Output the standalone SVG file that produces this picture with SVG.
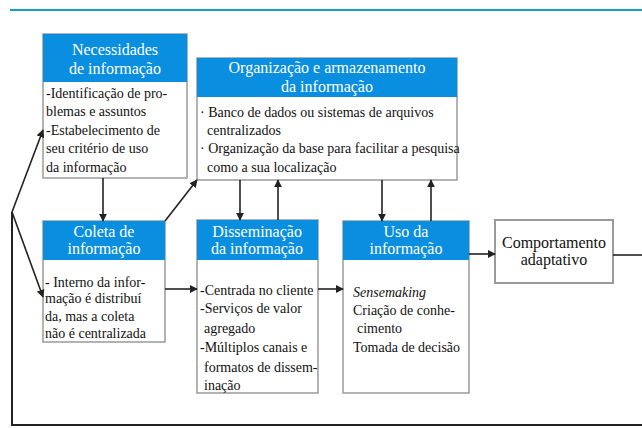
<svg xmlns="http://www.w3.org/2000/svg" width="642" height="428" viewBox="0 0 642 428">
  <defs>
    <marker id="arrow" viewBox="0 0 10 10" refX="9" refY="5" markerWidth="8" markerHeight="8" markerUnits="userSpaceOnUse" orient="auto">
      <path d="M0,0 L10,5 L0,10 z" fill="#222"/>
    </marker>
    <style>
      .head { fill: #0a8ee0; }
      .body { fill: #fff; stroke: #9a9a9a; stroke-width: 1.5; }
      text { font-family: 'Liberation Serif', 'DejaVu Serif', 'Times New Roman', serif; }
      .ht { font-size: 16px; fill: #fff; text-anchor: middle; }
      .bt { font-size: 14px; fill: #111; }
      .ct { font-size: 16px; fill: #111; text-anchor: middle; }
      .conn { fill: none; stroke: #222; stroke-width: 1.6; }
      .frame { fill: none; stroke: #222; stroke-width: 2; }
    </style>
  </defs>

  <rect width="642" height="428" fill="#fff"/>

  <!-- top rule -->
  <line x1="10" y1="10" x2="642" y2="10" stroke="#12a0c6" stroke-width="2.2"/>

  <!-- needs -->
  <g id="necessidades">
    <rect class="body" x="43" y="34" width="144" height="144"/>
    <rect class="head" x="43" y="34" width="144" height="48"/>
    <text class="ht" x="115" y="55">Necessidades</text>
    <text class="ht" x="115" y="74">de informação</text>
    <text class="bt" x="46" y="98">-Identificação de pro-</text>
    <text class="bt" x="46" y="116">blemas e assuntos</text>
    <text class="bt" x="46" y="135">-Estabelecimento de</text>
    <text class="bt" x="46" y="153">seu critério de uso</text>
    <text class="bt" x="46" y="172">da informação</text>
  </g>

  <!-- organisation and storage -->
  <g id="organizacao">
    <rect class="body" x="197" y="58" width="260" height="122"/>
    <rect class="head" x="197" y="58" width="260" height="39"/>
    <text class="ht" x="327" y="73">Organização e armazenamento</text>
    <text class="ht" x="327" y="92">da informação</text>
    <text class="bt" x="200" y="117">· Banco de dados ou sistemas de arquivos</text>
    <text class="bt" x="207" y="135">centralizados</text>
    <text class="bt" x="200" y="153">· Organização da base para facilitar a pesquisa</text>
    <text class="bt" x="207" y="172">como a sua localização</text>
  </g>

  <!-- collection -->
  <g id="coleta">
    <rect class="body" x="43" y="221" width="122" height="121"/>
    <rect class="head" x="43" y="221" width="122" height="39"/>
    <text class="ht" x="104" y="237">Coleta de</text>
    <text class="ht" x="104" y="254">informação</text>
    <text class="bt" x="45" y="287">- Interno da infor-</text>
    <text class="bt" x="45" y="303">mação é distribuí</text>
    <text class="bt" x="45" y="321">da, mas a coleta</text>
    <text class="bt" x="45" y="338">não é centralizada</text>
  </g>

  <!-- dissemination -->
  <g id="disseminacao">
    <rect class="body" x="197" y="220" width="121" height="173"/>
    <rect class="head" x="197" y="220" width="121" height="40"/>
    <text class="ht" x="257" y="237">Disseminação</text>
    <text class="ht" x="257" y="254">da informação</text>
    <text class="bt" x="200" y="295">-Centrada no cliente</text>
    <text class="bt" x="200" y="313">-Serviços de valor</text>
    <text class="bt" x="204" y="333">agregado</text>
    <text class="bt" x="200" y="352">-Múltiplos canais e</text>
    <text class="bt" x="204" y="372">formatos de dissem-</text>
    <text class="bt" x="204" y="390">inação</text>
  </g>

  <!-- use -->
  <g id="uso">
    <rect class="body" x="343" y="221" width="126" height="172"/>
    <rect class="head" x="343" y="221" width="126" height="39"/>
    <text class="ht" x="406" y="237">Uso da</text>
    <text class="ht" x="406" y="254">informação</text>
    <text class="bt" x="353" y="297" font-style="italic">Sensemaking</text>
    <text class="bt" x="353" y="315">Criação de conhe-</text>
    <text class="bt" x="357" y="333">cimento</text>
    <text class="bt" x="353" y="352">Tomada de decisão</text>
  </g>

  <!-- adaptive behaviour -->
  <g id="comportamento">
    <rect x="495" y="220" width="118" height="63" fill="#fff" stroke="#9a9a9a" stroke-width="2"/>
    <text class="ct" x="554" y="248">Comportamento</text>
    <text class="ct" x="554" y="265">adaptativo</text>
  </g>

  <!-- connectors -->
  <g id="conectores">
    <!-- outer feedback loop -->
    <polyline class="frame" points="642,425 12,425 12,212"/>
    <line class="conn" x1="12" y1="212" x2="43" y2="130" marker-end="url(#arrow)"/>
    <line class="conn" x1="12" y1="212" x2="43" y2="297" marker-end="url(#arrow)"/>
    <!-- needs to collection -->
    <line class="conn" x1="103" y1="178" x2="103" y2="221" marker-end="url(#arrow)"/>
    <!-- collection to organisation -->
    <line class="conn" x1="165" y1="221" x2="197" y2="180" marker-end="url(#arrow)"/>
    <!-- collection to dissemination -->
    <line class="conn" x1="165" y1="289" x2="197" y2="289" marker-end="url(#arrow)"/>
    <!-- organisation and dissemination -->
    <line class="conn" x1="240" y1="180" x2="240" y2="220" marker-end="url(#arrow)"/>
    <line class="conn" x1="278" y1="220" x2="278" y2="180" marker-end="url(#arrow)"/>
    <!-- organisation and use -->
    <line class="conn" x1="382" y1="180" x2="382" y2="221" marker-end="url(#arrow)"/>
    <line class="conn" x1="431" y1="221" x2="431" y2="180" marker-end="url(#arrow)"/>
    <!-- dissemination to use -->
    <line class="conn" x1="318" y1="289" x2="343" y2="289" marker-end="url(#arrow)"/>
    <!-- use to adaptive behaviour -->
    <line class="conn" x1="469" y1="254" x2="495" y2="254" marker-end="url(#arrow)"/>
    <!-- onward -->
    <line class="conn" x1="613" y1="255" x2="642" y2="255"/>
  </g>
</svg>
